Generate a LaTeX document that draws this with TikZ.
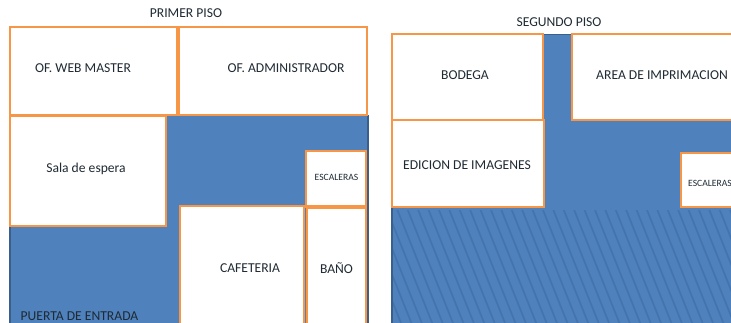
\documentclass[tikz,border=0pt]{standalone}
\usepackage{fontspec}
\setmainfont{Carlito}
\definecolor{bluefill}{HTML}{4F81BD}
\definecolor{blueedge}{HTML}{3A5F8B}
\definecolor{hatchline}{HTML}{4474AE}
\definecolor{orangeline}{HTML}{F79646}
\definecolor{inktext}{HTML}{1F2A33}
\tikzset{
  x=0.75pt,y=-0.75pt,
  room/.style={draw=orangeline,line width=2.12pt,fill=white},
  label/.style={text=inktext,font=\fontsize{10.2}{12}\selectfont,inner sep=0pt,anchor=center},
  small/.style={text=inktext,font=\fontsize{7.2}{9}\selectfont,inner sep=0pt,anchor=center},
}
\begin{document}
\begin{tikzpicture}
\useasboundingbox (0,0) rectangle (731,322);
\clip (0,0) rectangle (731,322);
% ground floor
\fill[bluefill] (10,115) rectangle (368,330);
\draw[blueedge,line width=0.8pt] (10,115) -- (10,330);
\draw[blueedge,line width=0.8pt] (368,115) -- (368,330);
\draw[room] (10,27) rectangle (177,115);
\draw[room] (179,27) rectangle (367,115);
\draw[room] (10,116) rectangle (166,226);
\draw[room] (306,151) rectangle (366,206);
\draw[room] (180,206) rectangle (304,335);
\draw[room] (307,208) rectangle (366,335);
\draw[orangeline,line width=2.4pt] (304,206.5) -- (367,206.5);
% upper floor
\fill[bluefill] (392,34) rectangle (740,330);
\draw[blueedge,line width=0.8pt] (392,207) -- (392,330);
\begin{scope}
\clip (393,210) rectangle (731,322);
\foreach \k in {-4,...,36}
  \draw[hatchline,line width=1.3pt] ({385+\k*10.4},205) -- ({385+\k*10.4+50},330);
\end{scope}
\draw[room] (392,34) rectangle (543,120);
\draw[room] (392,120) rectangle (544,207);
\draw[room] (572,34) rectangle (740,120);
\draw[room] (681,153) rectangle (740,207);
\draw[blueedge,line width=0.8pt] (544,34.5) -- (571,34.5);
% texts
\node[label] (t1) at (186,13.5) {PRIMER PISO};
\node[label] (t2) at (559,22.5) {SEGUNDO PISO};
\node[label] (a) at (83,68) {OF. WEB MASTER};
\node[label] (b) at (286,68) {OF. ADMINISTRADOR};
\node[label] (c) at (86,169) {Sala de espera};
\node[small] (d) at (336.5,177.5) {ESCALERAS};
\node[label] (e) at (250,268.5) {CAFETERIA};
\node[label] (f) at (336.5,268.5) {BAÑO};
\node[label] (g) at (79.5,316) {PUERTA DE ENTRADA};
\node[label] (h) at (465,75) {BODEGA};
\node[label] (i) at (662,75) {AREA DE IMPRIMACION};
\node[label] (j) at (467,165) {EDICION DE IMAGENES};
\node[small] (k) at (710,183) {ESCALERAS};
\end{tikzpicture}
\end{document}
